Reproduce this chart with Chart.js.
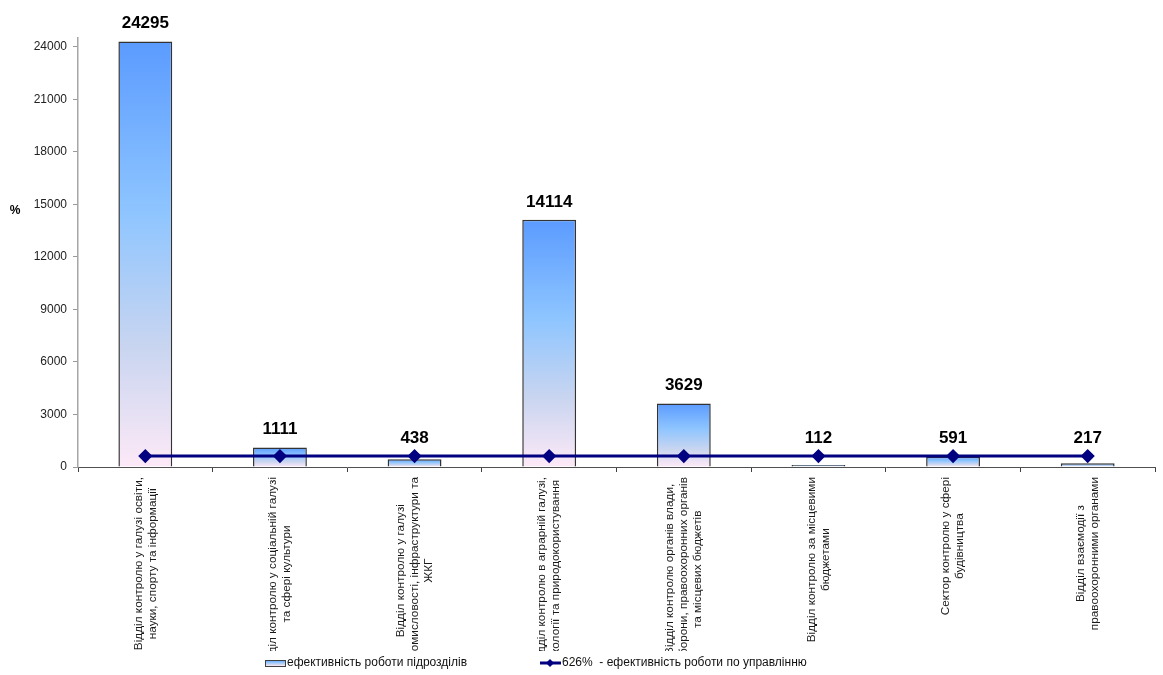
<!DOCTYPE html>
<html>
<head>
<meta charset="utf-8">
<script src="https://cdn.jsdelivr.net/npm/chart.js@4/dist/chart.umd.min.js"></script>
<style>
  html, body { margin: 0; padding: 0; background: #fff; }
</style>
</head>
<body>
<canvas id="chart" width="1163" height="675"></canvas>
<script>
// категорії (підрозділи), кожен рядок - окремий рядок підпису
const categories = [
  ['Відділ контролю у галузі освіти,', 'науки, спорту та інформації'],
  ['Відділ контролю у соціальній галузі', 'та сфері культури'],
  ['Відділ контролю у галузі', 'промисловості, інфраструктури та', 'ЖКГ'],
  ['Відділ контролю в аграрній галузі,', 'екології та природокористування'],
  ['Відділ контролю органів влади,', 'оборони, правоохоронних органів', 'та місцевих бюджетів'],
  ['Відділ контролю за місцевими', 'бюджетами'],
  ['Сектор контролю у сфері', 'будівництва'],
  ['Відділ взаємодії з', 'правоохоронними органами']
];
const unitEfficiency = [24295, 1111, 438, 14114, 3629, 112, 591, 217];
const totalEfficiency = [626, 626, 626, 626, 626, 626, 626, 626];
const yTicks = [0, 3000, 6000, 9000, 12000, 15000, 18000, 21000, 24000];
const seriesNames = ['ефективність роботи підрозділів', '626%  - ефективність роботи по управлінню'];
const axisTitle = '%';

const FONT = 'Arial, "Liberation Sans", sans-serif';
const NAVY = '#000080';

function barGradient(c, top, bottom) {
  const g = c.createLinearGradient(0, top, 0, bottom);
  g.addColorStop(0, '#5b9bff');
  g.addColorStop(0.4, '#8ec5ff');
  g.addColorStop(0.72, '#c9d5f0');
  g.addColorStop(1, '#fde9f7');
  return g;
}

// підписи категорій, значення над стовпцями, легенда, назва осі
const extras = {
  id: 'extras',
  afterDatasetsDraw(chart) {
    const c = chart.ctx;
    const y = chart.scales.y;
    const lineY = y.getPixelForValue(totalEfficiency[0]);
    const bars = chart.getDatasetMeta(0).data;
    c.save();
    c.fillStyle = '#000';
    c.font = 'bold 17px ' + FONT;
    c.textAlign = 'center';
    c.textBaseline = 'middle';
    bars.forEach((b, i) => {
      const top = Math.min(b.y, lineY);
      c.fillText(String(unitEfficiency[i]), b.x, top - 18);
    });
    c.restore();
  },
  afterDraw(chart) {
    const c = chart.ctx;
    const x = chart.scales.x;
    const area = chart.chartArea;

    // підписи осі X, повернуті на 90°
    c.save();
    c.beginPath();
    c.rect(0, area.bottom + 5, chart.width, 651 - area.bottom - 5);
    c.clip();
    c.font = '11.8px ' + FONT;
    c.fillStyle = '#1a1a1a';
    c.textAlign = 'center';
    c.textBaseline = 'middle';
    const lh = 14;
    const top = area.bottom + 10;
    categories.forEach((lines, i) => {
      const cx = x.getPixelForValue(i);
      const maxW = Math.max(...lines.map(l => c.measureText(l).width));
      lines.forEach((l, j) => {
        c.save();
        c.translate(cx + (j - (lines.length - 1) / 2) * lh, top + maxW / 2);
        c.rotate(-Math.PI / 2);
        c.fillText(l, 0, 0);
        c.restore();
      });
    });
    c.restore();

    // назва осі Y
    c.save();
    c.font = 'bold 12px ' + FONT;
    c.fillStyle = '#000';
    c.textAlign = 'center';
    c.textBaseline = 'middle';
    c.fillText(axisTitle, 15, 211);
    c.restore();

    // легенда
    const ly = 663;
    c.save();
    c.fillStyle = barGradient(c, ly - 3, ly + 3);
    c.fillRect(265, ly - 3, 20, 6);
    c.strokeStyle = '#404040';
    c.lineWidth = 1;
    c.strokeRect(265.5, ly - 2.5, 20, 6);
    c.font = '12px ' + FONT;
    c.fillStyle = '#111';
    c.textAlign = 'left';
    c.textBaseline = 'middle';
    c.fillText(seriesNames[0], 287, ly);

    c.strokeStyle = NAVY;
    c.lineWidth = 3;
    c.beginPath();
    c.moveTo(540, ly);
    c.lineTo(561, ly);
    c.stroke();
    c.fillStyle = NAVY;
    c.beginPath();
    c.moveTo(550, ly - 4);
    c.lineTo(554, ly);
    c.lineTo(550, ly + 4);
    c.lineTo(546, ly);
    c.closePath();
    c.fill();
    c.fillStyle = '#111';
    c.fillText(seriesNames[1], 562, ly);
    c.restore();
  }
};

new Chart(document.getElementById('chart'), {
  data: {
    labels: categories,
    datasets: [
      {
        type: 'bar',
        label: seriesNames[0],
        data: unitEfficiency,
        order: 1,
        backgroundColor: (ctx) => {
          const chart = ctx.chart;
          if (!chart.chartArea || ctx.type !== 'data') return '#8ec5ff';
          const y = chart.scales.y;
          return barGradient(chart.ctx, y.getPixelForValue(ctx.raw), y.getPixelForValue(0));
        },
        borderColor: '#333',
        borderWidth: 1.5,
        barPercentage: 0.4,
        categoryPercentage: 1
      },
      {
        type: 'line',
        label: seriesNames[1],
        data: totalEfficiency,
        order: 0,
        borderColor: NAVY,
        borderWidth: 3,
        backgroundColor: NAVY,
        pointStyle: 'rectRot',
        pointRadius: 5,
        pointHoverRadius: 5,
        tension: 0
      }
    ]
  },
  options: {
    responsive: false,
    animation: false,
    layout: { padding: { top: 38, right: 8, bottom: 0, left: 0 } },
    plugins: {
      legend: { display: false },
      tooltip: { enabled: false }
    },
    scales: {
      x: {
        offset: true,
        ticks: { display: false },
        grid: { offset: true, drawOnChartArea: false, drawTicks: true, tickLength: 5, color: '#404040' },
        border: { color: '#505050' },
        afterFit: (s) => { s.height = 208; }
      },
      y: {
        min: 0,
        max: 24500,
        afterBuildTicks: (s) => { s.ticks = yTicks.map(v => ({ value: v })); },
        ticks: {
          padding: 6,
          color: '#222',
          font: { family: FONT, size: 12 },
          callback: (v) => String(v)
        },
        grid: { drawOnChartArea: false, drawTicks: true, tickLength: 5, color: '#999' },
        border: { color: '#a6a6a6', width: 1.5 },
        afterFit: (s) => { s.width = 78; }
      }
    }
  },
  plugins: [extras]
});
</script>
</body>
</html>
